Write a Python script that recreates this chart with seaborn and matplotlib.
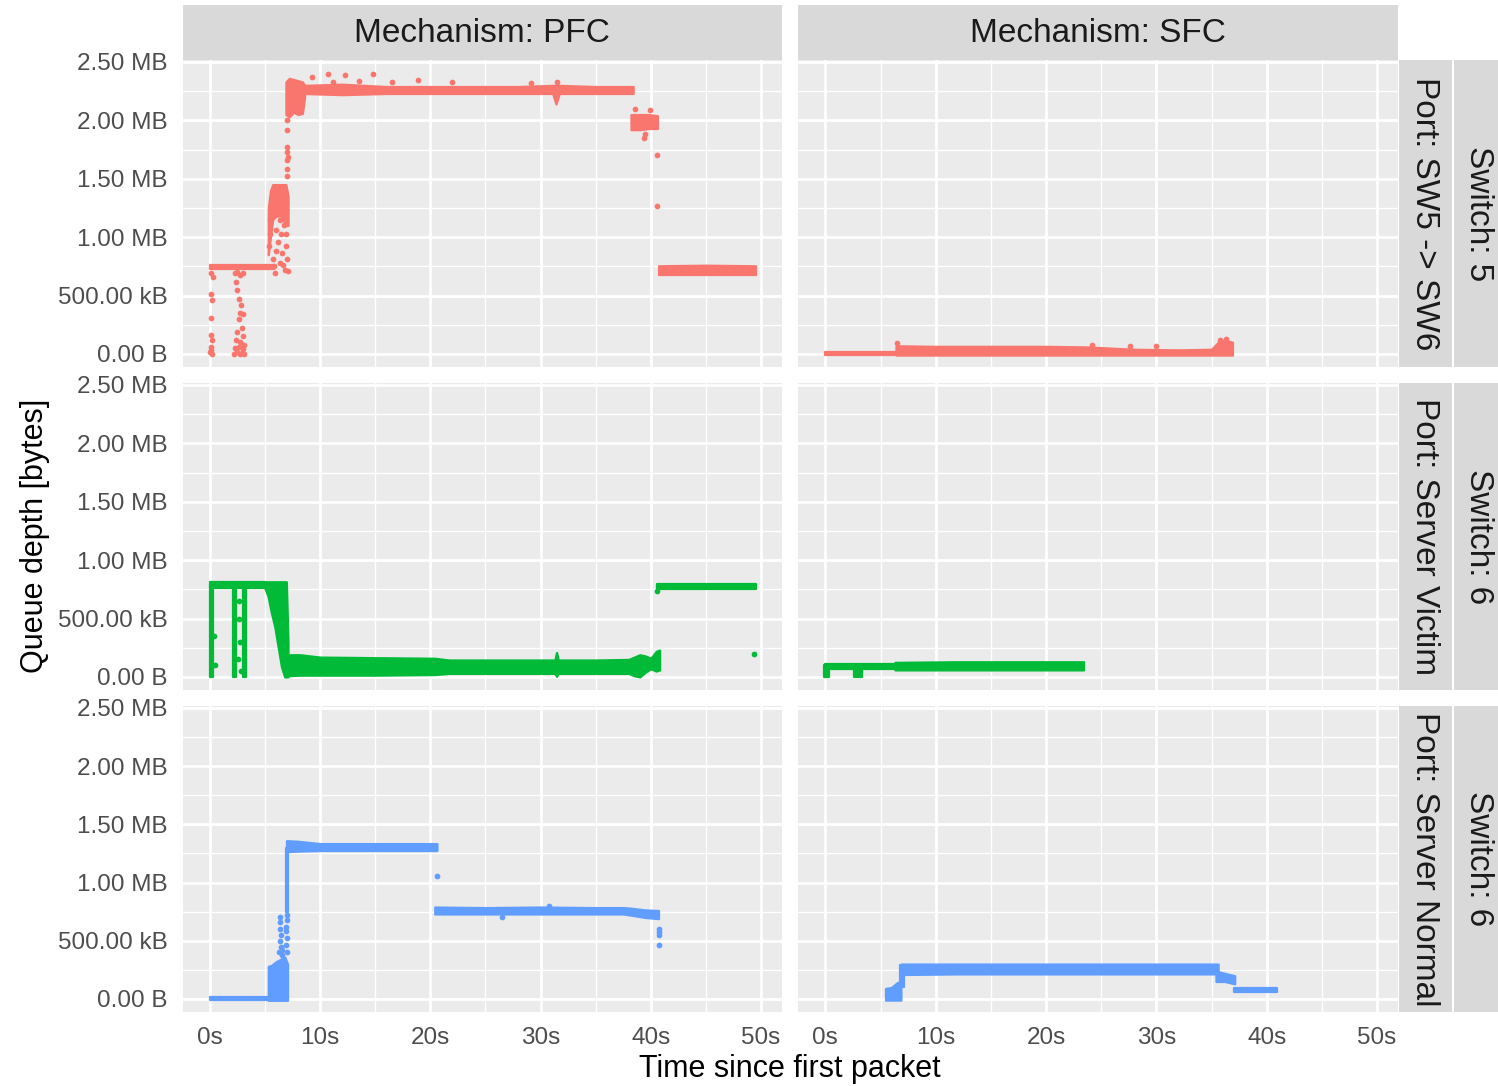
import matplotlib
matplotlib.use("Agg")
import matplotlib.pyplot as plt
import numpy as np
import pandas as pd
import seaborn as sns
from matplotlib.patches import Rectangle
from matplotlib.ticker import FixedLocator

# ---------------- data (time in s, queue depth in MB) ----------------
mechanisms = ["PFC", "SFC"]
row_switch = ["5", "6", "6"]
row_port = ["SW5 -> SW6", "Server Victim", "Server Normal"]
row_colors = ["#F8766D", "#00BA38", "#619CFF"]

x_ticks = [0, 10, 20, 30, 40, 50]
x_tick_labels = ["0s", "10s", "20s", "30s", "40s", "50s"]
y_ticks = [0.0, 0.5, 1.0, 1.5, 2.0, 2.5]
y_tick_labels = ["0.00 B", "500.00 kB", "1.00 MB", "1.50 MB", "2.00 MB", "2.50 MB"]

# dense point clouds read as (time, lower edge, upper edge)
pfc_sw5_bands = [
    ([0.0, 5.8], [0.73, 0.73], [0.765, 0.765]),
    ([5.3, 5.5, 5.7, 6.0, 6.5, 6.9, 7.1], [0.85, 1.0, 1.15, 1.18, 1.18, 1.1, 1.1],
     [1.25, 1.40, 1.45, 1.45, 1.45, 1.45, 1.35]),
    ([6.9, 7.2, 7.6, 8.0, 8.4, 8.6], [2.05, 2.03, 2.07, 2.05, 2.06, 2.20],
     [2.33, 2.36, 2.35, 2.34, 2.33, 2.30]),
    ([8.6, 12.0, 16.0, 20.0, 24.0, 28.0, 31.1, 31.4, 31.7, 35.0, 38.4],
     [2.23, 2.22, 2.23, 2.23, 2.23, 2.23, 2.23, 2.14, 2.23, 2.23, 2.23],
     [2.30, 2.31, 2.29, 2.29, 2.29, 2.29, 2.30, 2.30, 2.30, 2.29, 2.29]),
    ([38.2, 39.0, 39.8, 40.6], [1.92, 1.92, 1.93, 1.93], [2.05, 2.05, 2.05, 2.04]),
    ([40.7, 45.0, 49.5], [0.68, 0.68, 0.68], [0.755, 0.76, 0.755]),
]
pfc_sw5_dots_t = [0.1, 0.25, 0.1, 0.2, 0.15, 0.1, 0.2, 0.1, 0.0, 0.2, 0.1,
                  2.3, 2.5, 2.7, 3.0, 2.4, 2.5, 2.6, 2.8, 2.7, 3.0, 2.6, 2.9, 2.5, 3.0,
                  2.4, 2.7, 3.1, 2.3, 2.5, 2.7, 2.9, 3.1, 2.2, 2.6, 3.0,
                  5.37, 5.49, 5.74, 5.89, 6.04, 6.19, 6.34, 6.49, 6.58, 6.70, 6.79, 6.88,
                  7.00, 7.09, 5.43, 6.34, 6.04, 6.64, 6.94, 5.83,
                  7.0, 7.0, 7.0, 7.0, 7.05, 7.0, 7.0, 7.0,
                  9.3, 10.7, 12.3, 14.8, 13.5, 18.9, 29.1, 31.5, 22.0, 16.5, 11.2,
                  38.6, 39.9, 39.4, 39.5, 40.6, 40.6]
pfc_sw5_dots_q = [0.69, 0.66, 0.51, 0.46, 0.31, 0.16, 0.12, 0.06, 0.02, 0.0, 0.03,
                  0.69, 0.70, 0.68, 0.69, 0.62, 0.55, 0.47, 0.42, 0.35, 0.34, 0.30, 0.22, 0.19, 0.15,
                  0.12, 0.10, 0.08, 0.05, 0.02, 0.0, 0.01, 0.0, 0.0, 0.06, 0.04,
                  0.92, 1.03, 0.81, 0.69, 0.88, 0.96, 0.78, 1.03, 0.86, 1.10, 0.72, 0.92,
                  0.81, 0.71, 1.15, 1.15, 1.06, 0.76, 1.03, 0.75,
                  2.00, 1.92, 1.77, 1.73, 1.69, 1.66, 1.58, 1.52,
                  2.37, 2.40, 2.39, 2.40, 2.34, 2.35, 2.32, 2.33, 2.33, 2.33, 2.33,
                  2.10, 2.09, 1.85, 1.88, 1.70, 1.27]

sfc_sw5_bands = [
    ([0.0, 6.4], [-0.01, -0.01], [0.02, 0.02]),
    ([6.4, 10.0, 15.0, 20.0, 23.7, 28.0, 32.0, 35.0, 35.6, 36.2, 36.9],
     [-0.01, -0.01, -0.01, -0.01, -0.01, -0.01, -0.01, -0.01, -0.01, -0.01, -0.01],
     [0.07, 0.065, 0.065, 0.065, 0.06, 0.04, 0.035, 0.04, 0.10, 0.12, 0.10]),
]
sfc_sw5_dots_t = [6.5, 24.2, 27.6, 30.0, 35.8, 36.3]
sfc_sw5_dots_q = [0.09, 0.075, 0.07, 0.065, 0.12, 0.13]

pfc_victim_bands = [
    ([0.0, 5.0], [0.76, 0.76], [0.815, 0.815]),
    ([0.0, 0.25], [0.0, 0.0], [0.78, 0.78]),
    ([2.1, 2.35], [0.0, 0.0], [0.78, 0.78]),
    ([3.0, 3.25], [0.0, 0.0], [0.78, 0.78]),
    ([5.0, 5.28, 5.58, 5.89, 6.19, 6.49, 6.79, 6.94, 7.09],
     [0.76, 0.69, 0.55, 0.43, 0.26, 0.09, 0.0, 0.0, 0.0],
     [0.815, 0.815, 0.815, 0.815, 0.815, 0.815, 0.815, 0.815, 0.30]),
    ([7.0, 8.2, 10.0, 15.0, 20.4, 21.7, 25.0, 30.0, 31.3, 31.45, 31.6, 35.0,
      38.0, 38.5, 39.0, 39.5, 40.0, 40.5, 40.8],
     [0.01, 0.015, 0.015, 0.015, 0.02, 0.03, 0.03, 0.03, 0.03, 0.005, 0.03, 0.03,
      0.03, 0.01, 0.0, 0.04, 0.07, 0.05, 0.06],
     [0.19, 0.19, 0.17, 0.165, 0.16, 0.145, 0.145, 0.145, 0.145, 0.21, 0.145, 0.145,
      0.15, 0.17, 0.19, 0.18, 0.16, 0.22, 0.23]),
    ([40.6, 45.0, 49.5], [0.755, 0.755, 0.755], [0.80, 0.80, 0.80]),
]
pfc_victim_dots_t = [2.6, 2.7, 2.55, 2.8, 2.65, 0.4, 0.45, 40.6, 49.4]
pfc_victim_dots_q = [0.50, 0.30, 0.15, 0.05, 0.65, 0.35, 0.10, 0.74, 0.197]

sfc_victim_bands = [
    ([0.0, 6.3], [0.068, 0.068], [0.11, 0.11]),
    ([6.3, 12.0, 18.0, 23.4], [0.06, 0.06, 0.06, 0.06], [0.125, 0.13, 0.13, 0.13]),
    ([-0.1, 0.35], [0.0, 0.0], [0.10, 0.10]),
    ([2.6, 3.3], [0.0, 0.0], [0.08, 0.08]),
]
sfc_victim_dots_t = []
sfc_victim_dots_q = []

pfc_normal_bands = [
    ([0.0, 5.3], [-0.012, -0.012], [0.018, 0.018]),
    ([5.3, 5.6, 6.0, 6.4, 6.8, 7.05], [-0.012, -0.012, -0.012, -0.012, -0.012, -0.012],
     [0.28, 0.29, 0.32, 0.34, 0.36, 0.30]),
    ([6.95, 7.1], [0.75, 0.75], [1.30, 1.30]),
    ([6.95, 8.0, 10.0, 14.0, 17.0, 20.6], [1.265, 1.27, 1.275, 1.275, 1.275, 1.275],
     [1.36, 1.355, 1.335, 1.335, 1.335, 1.335]),
    ([20.4, 25.0, 30.0, 35.0, 37.5, 38.2, 39.5, 40.7],
     [0.73, 0.73, 0.73, 0.73, 0.73, 0.72, 0.70, 0.69],
     [0.79, 0.785, 0.79, 0.785, 0.785, 0.78, 0.765, 0.76]),
]
pfc_normal_dots_t = [20.6, 26.5, 30.8, 40.7, 40.7, 40.7, 40.7,
                     6.34, 6.40, 6.37, 6.43, 6.40, 6.46, 6.52, 6.30, 6.58,
                     6.94, 6.94, 6.97, 6.94, 6.97, 7.0, 6.97]
pfc_normal_dots_q = [1.06, 0.705, 0.80, 0.605, 0.576, 0.548, 0.462,
                     0.70, 0.66, 0.60, 0.55, 0.50, 0.45, 0.42, 0.40, 0.38,
                     0.62, 0.58, 0.52, 0.46, 0.40, 0.72, 0.68]

sfc_normal_bands = [
    ([5.45, 6.0, 6.5, 6.85], [-0.01, -0.01, -0.01, -0.01], [0.09, 0.10, 0.14, 0.15]),
    ([6.8, 7.1], [0.10, 0.10], [0.29, 0.29]),
    ([6.9, 12.0, 18.0, 24.0, 30.0, 35.6], [0.21, 0.215, 0.215, 0.215, 0.215, 0.215],
     [0.30, 0.30, 0.30, 0.30, 0.30, 0.30]),
    ([35.4, 36.2, 37.1], [0.15, 0.15, 0.13], [0.24, 0.22, 0.20]),
    ([37.0, 40.9], [0.06, 0.06], [0.09, 0.09]),
]
sfc_normal_dots_t = []
sfc_normal_dots_q = []

panel_data = {
    (0, 0): (pfc_sw5_bands, pfc_sw5_dots_t, pfc_sw5_dots_q),
    (0, 1): (sfc_sw5_bands, sfc_sw5_dots_t, sfc_sw5_dots_q),
    (1, 0): (pfc_victim_bands, pfc_victim_dots_t, pfc_victim_dots_q),
    (1, 1): (sfc_victim_bands, sfc_victim_dots_t, sfc_victim_dots_q),
    (2, 0): (pfc_normal_bands, pfc_normal_dots_t, pfc_normal_dots_q),
    (2, 1): (sfc_normal_bands, sfc_normal_dots_t, sfc_normal_dots_q),
}

# ---------------- styling ----------------
sns.set_theme(style="darkgrid")
plt.rcParams['font.family'] = ['Liberation Sans', 'DejaVu Sans']

W, H = 1498, 1086
fig = plt.figure(figsize=(W / 100, H / 100), dpi=100)
fig.patch.set_facecolor("white")

col_x = [(182.5, 782.0), (798.0, 1398.0)]
row_y = [(60.0, 367.0), (383.0, 690.0), (706.0, 1012.0)]

PANEL_BG = "#EBEBEB"
STRIP_BG = "#D9D9D9"
TICK_COL = "#4D4D4D"
TXT_COL = "#1A1A1A"

for r, (y0, y1) in enumerate(row_y):
    for c, (x0, x1) in enumerate(col_x):
        ax = fig.add_axes([x0 / W, 1 - y1 / H, (x1 - x0) / W, (y1 - y0) / H])
        ax.set_facecolor(PANEL_BG)
        for s in ax.spines.values():
            s.set_visible(False)
        ax.set_xlim(-2.48, 51.9)
        ax.set_ylim(-0.112, 2.517)
        ax.set_xticks(x_ticks)
        ax.set_yticks(y_ticks)
        ax.xaxis.set_minor_locator(FixedLocator([5, 15, 25, 35, 45]))
        ax.yaxis.set_minor_locator(FixedLocator([0.25, 0.75, 1.25, 1.75, 2.25]))
        ax.grid(which="major", color="white", linewidth=2.0)
        ax.grid(which="minor", color="white", linewidth=1.0)
        ax.set_axisbelow(True)
        ax.tick_params(which="minor", length=0)
        if r == 2:
            ax.set_xticklabels(x_tick_labels)
            ax.tick_params(axis="x", which="major", length=5.5, width=1.1,
                           color="#333333", pad=5.5, labelsize=17.5, labelcolor=TICK_COL)
        else:
            ax.tick_params(axis="x", which="major", length=0, labelbottom=False)
        if c == 0:
            ax.set_yticklabels(y_tick_labels)
            ax.tick_params(axis="y", which="major", length=5.5, width=1.1,
                           color="#333333", pad=5, labelsize=17.5, labelcolor=TICK_COL)
        else:
            ax.tick_params(axis="y", which="major", length=0, labelleft=False)

        color = row_colors[r]
        bands, dt, dq = panel_data[(r, c)]
        for t, lo, hi in bands:
            ax.fill_between(t, lo, hi, color=color, linewidth=1.6, edgecolor=color,
                            joinstyle="round", capstyle="round", zorder=3)
        if len(dt):
            dots = pd.DataFrame({"t": dt, "q": dq})
            sns.scatterplot(data=dots, x="t", y="q", ax=ax, color=color, s=17,
                            linewidth=0, legend=False, zorder=4)
        ax.set_xlabel("")
        ax.set_ylabel("")

# top strips
for c, (x0, x1) in enumerate(col_x):
    fig.add_artist(Rectangle((x0 / W, 1 - 60 / H), (x1 - x0) / W, 55 / H,
                             transform=fig.transFigure, facecolor=STRIP_BG,
                             edgecolor="none"))
    fig.text((x0 + x1) / 2 / W, 1 - 34 / H, f"Mechanism: {mechanisms[c]}",
             ha="center", va="center", fontsize=24, color=TXT_COL)

# right strips
for r, (y0, y1) in enumerate(row_y):
    fig.add_artist(Rectangle((1399 / W, 1 - y1 / H), 53 / W, (y1 - y0) / H,
                             transform=fig.transFigure, facecolor=STRIP_BG,
                             edgecolor="none"))
    fig.add_artist(Rectangle((1453.5 / W, 1 - y1 / H), 50 / W, (y1 - y0) / H,
                             transform=fig.transFigure, facecolor=STRIP_BG,
                             edgecolor="none"))
    yc = 1 - (y0 + y1) / 2 / H
    fig.text(1424 / W, yc, f"Port: {row_port[r]}", rotation=-90,
             ha="center", va="center", fontsize=24, color=TXT_COL)
    fig.text(1479 / W, yc, f"Switch: {row_switch[r]}", rotation=-90,
             ha="center", va="center", fontsize=24, color=TXT_COL)

fig.text(790 / W, 1 - 1069 / H, "Time since first packet", ha="center",
         va="center", fontsize=22, color="black")
fig.text(35 / W, 1 - 536 / H, "Queue depth [bytes]", ha="center", va="center",
         rotation=90, fontsize=22, color="black")

fig.savefig("out.png", dpi=100, facecolor="white")
